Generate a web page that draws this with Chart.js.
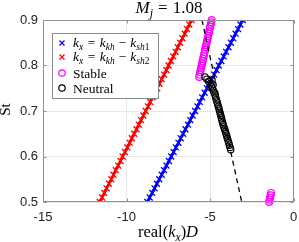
<!DOCTYPE html>
<html><head><meta charset="utf-8">
<script src="https://cdn.jsdelivr.net/npm/chart.js@4/dist/chart.umd.min.js"></script>
<style>html,body{margin:0;padding:0;background:#fff}#w{width:299px;height:242px}</style>
</head><body><div id="w"><canvas id="c" width="299" height="242"></canvas></div>
<script>
// ---- data ----
const xTicks = [-15, -10, -5, 0];
const yTicks = [0.5, 0.6, 0.7, 0.8, 0.9];
const stLine = [0.50,0.51,0.52,0.53,0.54,0.55,0.56,0.57,0.58,0.59,0.60,0.61,0.62,0.63,0.64,0.65,0.66,0.67,0.68,0.69,0.70,0.71,0.72,0.73,0.74,0.75,0.76,0.77,0.78,0.79,0.80,0.81,0.82,0.83,0.84,0.85,0.86,0.87,0.88,0.89,0.90];
const kxSh1 = [-8.75,-8.61,-8.46,-8.32,-8.18,-8.04,-7.89,-7.75,-7.61,-7.46,-7.32,-7.18,-7.04,-6.89,-6.75,-6.61,-6.47,-6.32,-6.18,-6.04,-5.89,-5.75,-5.61,-5.47,-5.32,-5.18,-5.04,-4.89,-4.75,-4.61,-4.47,-4.32,-4.18,-4.04,-3.89,-3.75,-3.61,-3.47,-3.32,-3.18,-3.04];
const kxSh2 = [-11.60,-11.46,-11.33,-11.19,-11.05,-10.91,-10.78,-10.64,-10.50,-10.36,-10.23,-10.09,-9.95,-9.81,-9.68,-9.54,-9.40,-9.26,-9.13,-8.99,-8.85,-8.71,-8.58,-8.44,-8.30,-8.16,-8.03,-7.89,-7.75,-7.61,-7.48,-7.34,-7.20,-7.06,-6.93,-6.79,-6.65,-6.51,-6.38,-6.24,-6.10];
const stStable = [0.775,0.780,0.785,0.790,0.795,0.800,0.805,0.810,0.815,0.820,0.825,0.830,0.835,0.840,0.845,0.850,0.855,0.860,0.865,0.870,0.875,0.880,0.885,0.890,0.895,0.900, 0.500,0.505,0.510,0.515,0.520];
const kxStable = [-5.65,-5.62,-5.59,-5.56,-5.53,-5.50,-5.47,-5.44,-5.41,-5.38,-5.35,-5.32,-5.29,-5.26,-5.23,-5.20,-5.17,-5.14,-5.11,-5.08,-5.05,-5.02,-4.99,-4.96,-4.93,-4.90, -1.46,-1.43,-1.40,-1.37,-1.34];
const stNeutral = [0.768,0.775,0.770,0.765,0.760,0.755,0.750,0.745,0.740,0.735,0.730,0.725,0.720,0.715,0.710,0.705,0.700,0.695,0.690,0.685,0.680,0.675,0.670,0.665,0.660,0.655,0.650,0.645,0.640,0.635,0.630,0.625,0.620,0.615];
const kxNeutral = [-4.88,-5.30,-5.18,-5.08,-4.99,-4.91,-4.85,-4.80,-4.75,-4.70,-4.66,-4.62,-4.58,-4.54,-4.50,-4.46,-4.43,-4.39,-4.36,-4.32,-4.29,-4.25,-4.21,-4.17,-4.12,-4.08,-4.04,-4.00,-3.96,-3.92,-3.88,-3.84,-3.80,-3.76];
const stDash = [0.9, 0.5];
const kxDash = [-5.48, -3.10];

const pts = (xs, ys) => xs.map((x, i) => ({x: x, y: ys[i]}));

const SERIF = '"Liberation Serif", "DejaVu Serif", serif';
const SANS = '"Liberation Sans", Arial, sans-serif';

function richWidth(ctx, segs, size) {
  let w = 0;
  for (const s of segs) {
    const sz = s.sub ? size * 0.7 : size;
    ctx.font = (s.i ? 'italic ' : '') + sz + 'px ' + SERIF;
    w += ctx.measureText(s.t).width + (s.gap || 0) * 2;
  }
  return w;
}
function drawRich(ctx, segs, x, y, size, align) {
  let w = richWidth(ctx, segs, size);
  let cx = align === 'center' ? x - w / 2 : x;
  ctx.textBaseline = 'alphabetic';
  ctx.textAlign = 'left';
  for (const s of segs) {
    const sz = s.sub ? size * 0.7 : size;
    ctx.font = (s.i ? 'italic ' : '') + sz + 'px ' + SERIF;
    cx += (s.gap || 0);
    ctx.fillText(s.t, cx, s.sub ? y + size * 0.22 : y);
    cx += ctx.measureText(s.t).width + (s.gap || 0);
  }
  return w;
}

const deco = {
  id: 'deco',
  afterDatasetsDraw(chart) {
    const ctx = chart.ctx, a = chart.chartArea;
    const xs = chart.scales.x, ys = chart.scales.y;
    ctx.save();
    // axes box
    ctx.strokeStyle = '#8f8f8f'; ctx.lineWidth = 1;
    const L = Math.round(a.left) + 0.5, T = Math.round(a.top) + 0.5, R = Math.round(a.right) - 0.5, B = Math.round(a.bottom) - 0.5;
    ctx.strokeRect(L, T, R - L, B - T);
    // inward tick marks
    ctx.beginPath();
    xTicks.forEach(v => { const p = Math.round(xs.getPixelForValue(v)) + 0.5;
      ctx.moveTo(p, B); ctx.lineTo(p, B - 3); ctx.moveTo(p, T); ctx.lineTo(p, T + 3); });
    yTicks.forEach(v => { const p = Math.round(ys.getPixelForValue(v)) + 0.5;
      ctx.moveTo(L, p); ctx.lineTo(L + 3, p); ctx.moveTo(R, p); ctx.lineTo(R - 3, p); });
    ctx.stroke();
    // legend
    const lx = 52, ly = 33, lw = 106, lh = 65;
    ctx.fillStyle = '#fff'; ctx.fillRect(lx, ly, lw, lh);
    ctx.strokeStyle = '#8a8a8a'; ctx.strokeRect(lx + 0.5, ly + 0.5, lw, lh);
    const rows = [43, 57, 73, 88];
    const mx = 62, tx = 73, fs = 13.5;
    ctx.lineWidth = 1.2;
    [['#0000ff', 0], ['#ff0000', 1]].forEach(([c, k]) => {
      const y = rows[k]; ctx.strokeStyle = c; ctx.beginPath();
      ctx.moveTo(mx - 2.5, y - 2.5); ctx.lineTo(mx + 2.5, y + 2.5);
      ctx.moveTo(mx + 2.5, y - 2.5); ctx.lineTo(mx - 2.5, y + 2.5); ctx.stroke();
    });
    [['#ff00ff', 2], ['#000000', 3]].forEach(([c, k]) => {
      ctx.strokeStyle = c; ctx.beginPath(); ctx.arc(mx, rows[k], 3.2, 0, Math.PI * 2); ctx.stroke();
    });
    ctx.fillStyle = '#000';
    const leg = (n) => [{t:'k', i:true}, {t:'x', i:true, sub:true}, {t:'=', gap:4.5}, {t:'k', i:true}, {t:'kh', i:true, sub:true}, {t:'\u2212', gap:4}, {t:'k', i:true}, {t:'sh', i:true, sub:true}, {t:n, sub:true}];
    drawRich(ctx, leg('1'), tx, rows[0] + 4, fs);
    drawRich(ctx, leg('2'), tx, rows[1] + 4, fs);
    drawRich(ctx, [{t:'Stable'}], tx, rows[2] + 4.5, fs);
    drawRich(ctx, [{t:'Neutral'}], tx, rows[3] + 4.5, fs);
    // title
    drawRich(ctx, [{t:'M', i:true}, {t:'j', i:true, sub:true}, {t:'=', gap:5}, {t:'1.08'}], 169, 13, 17, 'center');
    // x label
    drawRich(ctx, [{t:'real('}, {t:'k', i:true}, {t:'x', i:true, sub:true}, {t:')'}, {t:'D', i:true}], 168, 237, 16.5, 'center');
    // y label
    ctx.save(); ctx.translate(10, 109.5); ctx.rotate(-Math.PI / 2);
    drawRich(ctx, [{t:'St'}], 0, 0, 15, 'center');
    ctx.restore();
    ctx.restore();
  }
};

new Chart(document.getElementById('c'), {
  type: 'scatter',
  data: {
    datasets: [
      {label: 'dash', data: pts(kxDash, stDash), showLine: true, borderColor: '#000', borderWidth: 1.3, borderDash: [5, 4], pointRadius: 0, order: 0},
      {label: 'Neutral', data: pts(kxNeutral, stNeutral), borderColor: '#000', backgroundColor: 'rgba(0,0,0,0)', pointStyle: 'circle', pointRadius: 3.2, borderWidth: 1.1, order: 1},
      {label: 'Stable', data: pts(kxStable, stStable), borderColor: '#ff00ff', backgroundColor: 'rgba(0,0,0,0)', pointStyle: 'circle', pointRadius: 3.4, borderWidth: 1.2, order: 2, clip: false},
      {label: 'sh2', data: pts(kxSh2, stLine), showLine: true, borderColor: '#ff0000', backgroundColor: '#ff0000', borderWidth: 2.5, pointStyle: 'crossRot', pointRadius: 4.2, pointBorderWidth: 1.3, order: 3},
      {label: 'sh1', data: pts(kxSh1, stLine), showLine: true, borderColor: '#0000ff', backgroundColor: '#0000ff', borderWidth: 2.5, pointStyle: 'crossRot', pointRadius: 4.2, pointBorderWidth: 1.3, order: 4}
    ]
  },
  options: {
    responsive: false, animation: false, devicePixelRatio: 1,
    layout: {padding: {top: 20, right: 4, left: 0, bottom: 0}},
    plugins: {legend: {display: false}, tooltip: {enabled: false}, title: {display: false}},
    scales: {
      x: {
        type: 'linear', min: -15, max: 0,
        afterBuildTicks: (s) => { s.ticks = xTicks.map(v => ({value: v})); },
        afterFit: (s) => { s.height = 40; s.paddingLeft = 0; s.paddingRight = 0; },
        grid: {color: '#e8e8e8', drawTicks: false},
        border: {display: false},
        ticks: {padding: 8, color: '#222', font: {family: SANS, size: 13}, maxRotation: 0, callback: (v) => String(v)}
      },
      y: {
        type: 'linear', min: 0.5, max: 0.9,
        afterBuildTicks: (s) => { s.ticks = yTicks.map(v => ({value: v})); },
        afterFit: (s) => { s.width = 43; s.paddingTop = 0; s.paddingBottom = 0; },
        grid: {color: '#e8e8e8', drawTicks: false},
        border: {display: false},
        ticks: {padding: 5, color: '#222', font: {family: SANS, size: 13}, callback: (v) => Number(v).toFixed(1)}
      }
    }
  },
  plugins: [deco]
});
</script></body></html>
